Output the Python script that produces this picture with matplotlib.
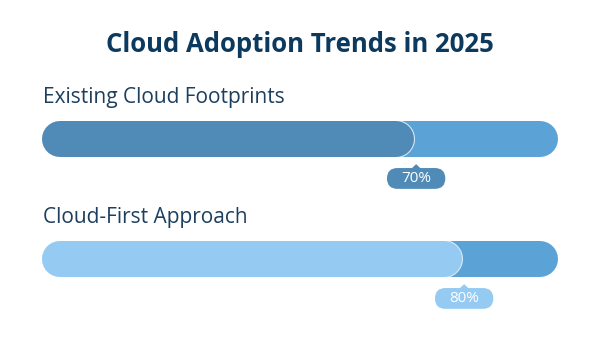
"""
Cloud adoption progress bars
"""

import matplotlib
matplotlib.use('Agg')

import matplotlib.pyplot as plt
import matplotlib.patheffects as pe
from matplotlib.patches import FancyBboxPatch, Polygon
from matplotlib.transforms import Affine2D, ScaledTranslation

categories = ['Existing Cloud Footprints', 'Cloud-First Approach']
values = [70, 80]
max_value = 100
fill_colors = ['#508bb8', '#95cbf3']
track_color = '#5ba2d7'
title = 'Cloud Adoption Trends in 2025'

plt.rcParams['font.family'] = ['Open Sans', 'DejaVu Sans']


def main():
    my_dpi = 100
    fig = plt.figure(figsize=(600 / my_dpi, 337 / my_dpi), dpi=my_dpi)
    ax = fig.add_axes([60 / 600, 0, 480 / 600, 1])
    ax.set_xlim(0, max_value)
    # bar centres at pixel 139 and 259
    ax.set_ylim((337 - 139) / 120, -139 / 120)
    ax.axis('off')

    bar_lw = 36 * 72 / my_dpi  # 36 px thick, round caps
    edge = [pe.Stroke(linewidth=bar_lw + 1.5, foreground='#ffffff', alpha=0.8),
            pe.Normal()]

    for i, (cat, val) in enumerate(zip(categories, values)):
        ax.plot([0, max_value], [i, i], color=track_color, lw=bar_lw,
                solid_capstyle='round', clip_on=False, path_effects=edge,
                zorder=1)
        ax.plot([0, val], [i, i], color=fill_colors[i], lw=bar_lw,
                solid_capstyle='round', clip_on=False, path_effects=edge,
                zorder=2)

        # category label above the bar
        ax.annotate(cat, xy=(0, i), xytext=(-12.5, 30),
                    textcoords='offset points', ha='left', va='center',
                    fontsize=15, color='#1d3f5e')

        # value badge: units in points, anchored at the bar's value
        tr = Affine2D().scale(my_dpi / 72) + ScaledTranslation(val, i, ax.transData)
        cx, cy, w, h = 14.5, -28.4, 42, 15
        ax.add_patch(FancyBboxPatch((cx - w / 2, cy - h / 2), w, h,
                                    boxstyle='round,pad=0,rounding_size=7.5',
                                    fc=fill_colors[i], ec='none',
                                    transform=tr, clip_on=False, zorder=3))
        ax.add_patch(Polygon([(cx - 3.5, cy + h / 2 - 0.5), (cx + 3.5, cy + h / 2 - 0.5),
                              (cx, cy + h / 2 + 2.8)],
                             fc=fill_colors[i], ec='none', transform=tr,
                             clip_on=False, zorder=3))
        ax.text(cx, cy, f'{val}%', ha='center', va='center', fontsize=11,
                color='white', transform=tr, zorder=4)

    fig.text(0.5, 1 - 44 / 337, title, ha='center', va='center',
             fontsize=18.5, fontweight='bold', color='#0c3a5e')

    fig.savefig('out.png', dpi=my_dpi)


if __name__ == "__main__":
    main()
